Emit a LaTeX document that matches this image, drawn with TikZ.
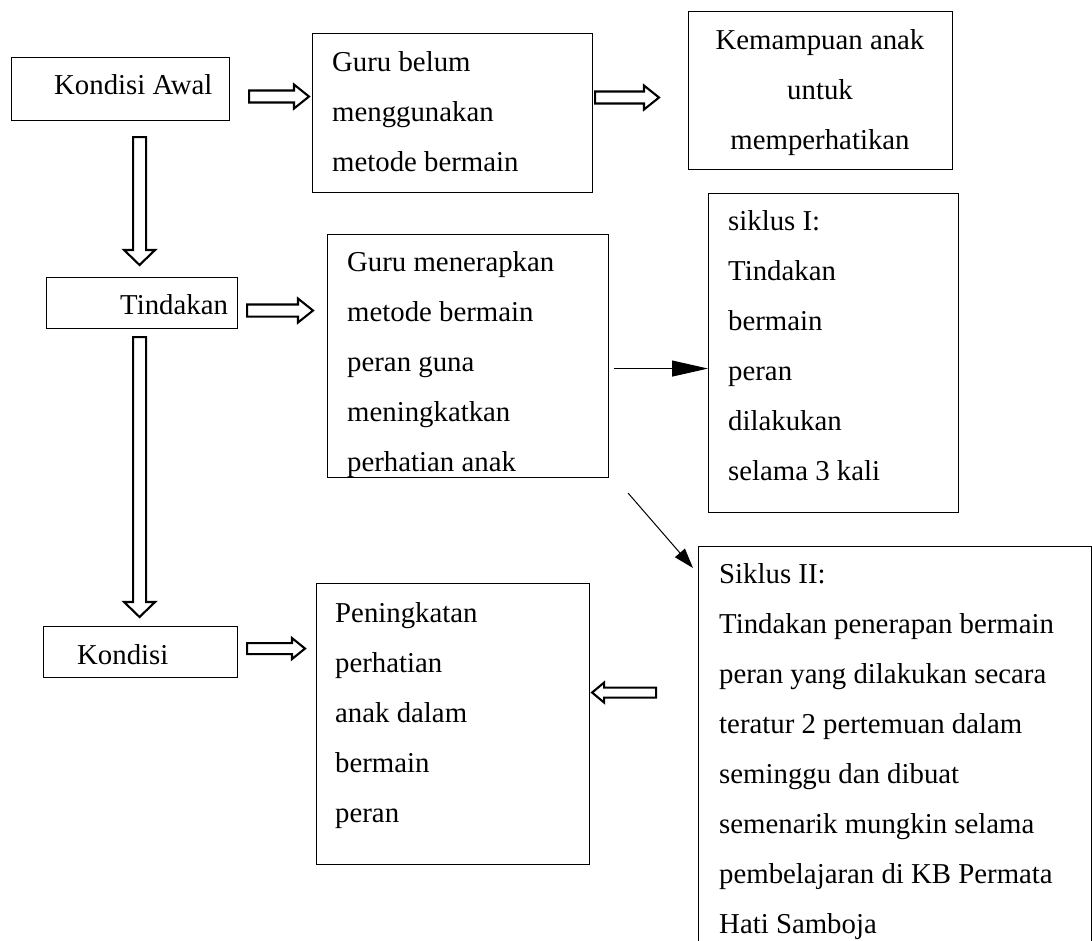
\documentclass[tikz,border=0pt]{standalone}
\usepackage{fontspec}
\setmainfont{Liberation Serif}
\usetikzlibrary{arrows.meta,calc}
\newcommand\leftlines[1]{\vtop{\halign{##\hfil\cr#1\crcr}}}
\newcommand\centerlines[1]{\vtop{\halign{\hfil##\hfil\cr#1\crcr}}}
% #1 shaft half-width, #2 head half-width, #3 head length, #4 tail, #5 tip
\newcommand\hollowarrow[5]{%
  \draw[hollow] let \p1=(#4), \p2=(#5), \n1={atan2(\y2-\y1,\x2-\x1)}, \n2={veclen(\x2-\x1,\y2-\y1)} in
    [shift={(\p1)}, rotate=\n1]
    (0pt,-#1pt) -- (\n2-#3pt,-#1pt) -- (\n2-#3pt,-#2pt) -- (\n2,0pt)
    -- (\n2-#3pt,#2pt) -- (\n2-#3pt,#1pt) -- (0pt,#1pt) -- cycle;}
\begin{document}
\begin{tikzpicture}[x=1pt,y=-1pt,
  box/.style={draw, line width=1.1pt, inner sep=0pt, anchor=north west},
  txt/.style={inner sep=0pt, anchor=base west, font=\fontsize{28.8}{50}\selectfont},
  txtc/.style={inner sep=0pt, anchor=base, font=\fontsize{28.8}{50}\selectfont},
  hollow/.style={draw, line width=2.1pt, line join=miter},
  thin/.style={line width=1pt}]
\useasboundingbox (0,0) rectangle (1092,941);
\clip (0,0) rectangle (1092,941);

% boxes
\node[box, minimum width=218, minimum height=63] (awal) at (11,57) {};
\node[box, minimum width=280, minimum height=159] (gb) at (312,33) {};
\node[box, minimum width=264, minimum height=158] (kem) at (688,11) {};
\node[box, minimum width=191, minimum height=51] (tind) at (46,277) {};
\node[box, minimum width=281, minimum height=243] (gm) at (327,234) {};
\node[box, minimum width=250, minimum height=319] (s1) at (708,193) {};
\node[box, minimum width=194, minimum height=51] (kond) at (43,626) {};
\node[box, minimum width=273, minimum height=281] (pen) at (316,583) {};
\node[box, minimum width=393, minimum height=420] (s2) at (698,546) {};

% texts
\node[txt] (awal-t) at (54,95) {Kondisi Awal};
\node[txt] (gb-t) at (332,72) {\leftlines{Guru belum\cr menggunakan\cr metode bermain}};
\node[txtc] (kem-t) at (820,50) {\centerlines{Kemampuan anak\cr untuk\cr memperhatikan}};
\node[txt] (tind-t) at (120,315) {Tindakan};
\node[txt] (gm-t) at (347,272) {\leftlines{Guru menerapkan\cr metode bermain\cr peran guna\cr meningkatkan\cr perhatian anak}};
\node[txt] (s1-t) at (728,231) {\leftlines{siklus I:\cr Tindakan\cr bermain\cr peran\cr dilakukan\cr selama 3 kali}};
\node[txt] (kond-t) at (77,664) {Kondisi};
\node[txt] (pen-t) at (335,622) {\leftlines{Peningkatan\cr perhatian\cr anak dalam\cr bermain\cr peran}};
\node[txt] (s2-t) at (719,583) {\leftlines{Siklus II:\cr Tindakan penerapan bermain\cr peran yang dilakukan secara\cr teratur 2 pertemuan dalam\cr seminggu dan dibuat\cr semenarik mungkin selama\cr pembelajaran di KB Permata\cr Hati Samboja}};

% hollow arrows
\hollowarrow{6}{12}{15}{$(awal.east)+(19,7.5)$}{$(gb.west)+(-3,-16.5)$}
\hollowarrow{6}{12}{15}{$(gb.east)+(2,-15.5)$}{$(kem.west)+(-29,7)$}
\hollowarrow{6.5}{15.5}{15}{$(awal.south)+(19,16)$}{$(tind.north)+(-2.5,-12)$}
\hollowarrow{6}{12}{15}{$(tind.east)+(9,7.5)$}{$(gm.west)+(-14,-45.5)$}
\hollowarrow{6.5}{15.5}{15}{$(tind.south)+(-2.5,8)$}{$(kond.north)+(-1,-9)$}
\hollowarrow{5.5}{10.5}{13}{$(kond.east)+(9,-3.5)$}{$(pen.west)+(-11,-75.5)$}
\hollowarrow{5}{10}{12}{$(pen.east)+(66,-31.5)$}{$(pen.east)+(2,-31.5)$}

% thin arrows
\draw[thin, -{Triangle[length=36pt,width=16pt]}] ($(gm.east)+(5,12.5)$) -- ($(s1.west)+(0,15.5)$);
\draw[thin, -{Triangle[length=20pt,width=13pt]}] ($(gm.south east)+(19,15)$) -- ($(s2.north west)+(-5,22)$);
\end{tikzpicture}
\end{document}
